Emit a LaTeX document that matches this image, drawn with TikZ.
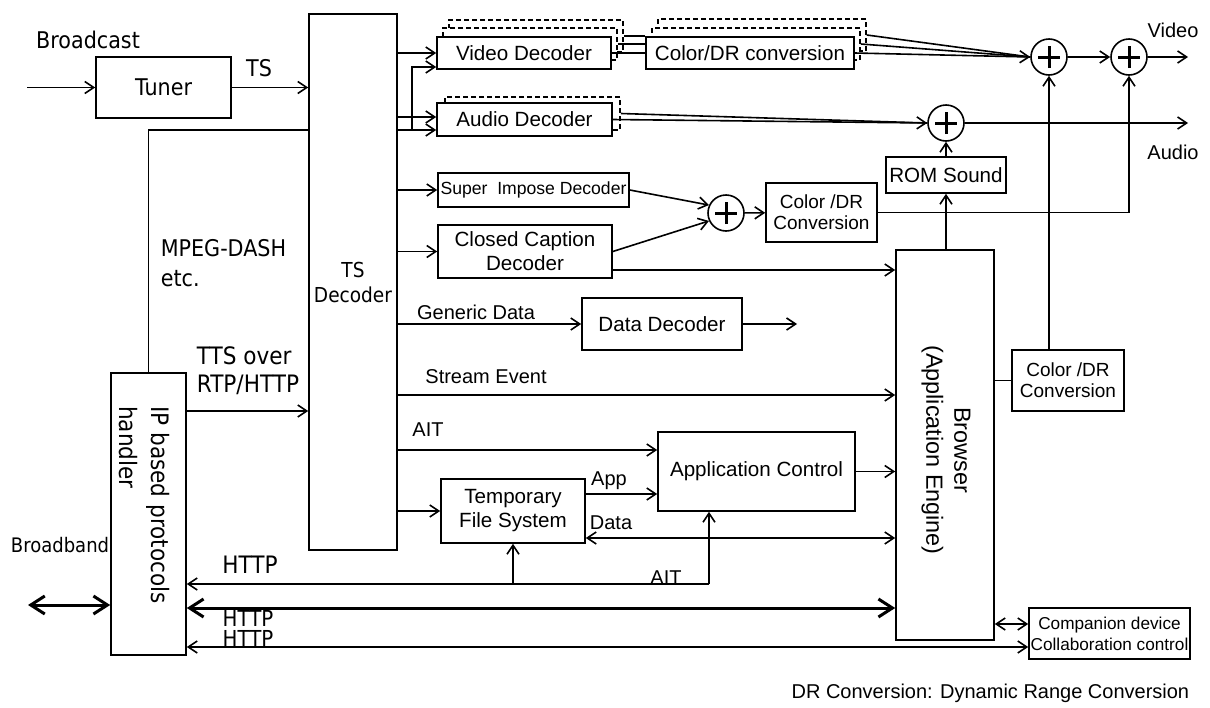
\documentclass[tikz,border=0pt]{standalone}
\usepackage{fontspec}
\setmainfont{Liberation Sans}
\newfontfamily\verdfont[FakeStretch=0.9]{DejaVu Sans}
\usetikzlibrary{arrows.meta, calc}

\begin{document}
\begin{tikzpicture}[
    x=0.5pt, y=-0.5pt,
    line width=0.8pt,
    % Styles
    box/.style={draw, fill=white, inner sep=0pt, align=center, font=\fontsize{10.3}{12}\selectfont},
    ghost/.style={draw, dash pattern=on 2.5pt off 1.5pt, fill=white, inner sep=0pt},
    sum/.style={circle, draw, fill=white, minimum size=18pt, inner sep=0pt,
        path picture={\draw[line width=1.5pt]
            ([xshift=-5.5pt]path picture bounding box.center) -- ([xshift=5.5pt]path picture bounding box.center)
            ([yshift=-5.5pt]path picture bounding box.center) -- ([yshift=5.5pt]path picture bounding box.center);}},
    arrow/.style={-{Straight Barb[length=4.5pt, width=6pt]}},
    darrow/.style={{Straight Barb[length=4.5pt, width=6pt]}-{Straight Barb[length=4.5pt, width=6pt]}},
    bigarrow/.style={line width=1.5pt, {Straight Barb[length=7pt, width=9pt]}-{Straight Barb[length=7pt, width=9pt]}},
    lbl/.style={inner sep=0pt, font=\fontsize{10}{12}\selectfont},
    vlbl/.style={inner sep=0pt, align=left, font=\verdfont\fontsize{11.5}{15}\selectfont}
]
    \useasboundingbox (0,0) rectangle (1210,707);

    % --- Broadcast input ---
    \node[vlbl] (bcast) at (88,40) {Broadcast};
    \node[box, font=\verdfont\fontsize{11.5}{14}\selectfont, minimum width=67.5pt, minimum height=30.5pt] (tuner) at (163.5,87.5) {Tuner};
    \coordinate (bin) at (27,87.5);
    \draw[arrow] (bin) -- (tuner);

    \node[box, font=\verdfont\fontsize{10.3}{12.5}\selectfont, minimum width=44pt, minimum height=268pt] (tsdec) at (353,282) {TS\\Decoder};
    \draw[arrow] (tuner.east) -- (tuner.east -| tsdec.west);
    \node[vlbl] (tslbl) at (259,68) {TS};

    % --- IP side ---
    \node[box, minimum width=37.5pt, minimum height=141pt] (iph) at (148.5,514) {};
    \node[vlbl, rotate=-90, font=\verdfont\fontsize{12}{16}\selectfont] (iphtxt) at (144,505) {IP based protocols\\handler};

    \draw (iph.north) -- (iph.north |- 0,130) -- (tsdec.west |- 0,130);
    \node[vlbl, anchor=west] (dashlbl) at (160,263) {MPEG-DASH\\etc.};

    \draw[arrow] (iph.east |- 0,411) -- (tsdec.west |- 0,411);
    \node[vlbl, anchor=west, font=\verdfont\fontsize{12}{14}\selectfont] (ttslbl) at (196,371) {TTS over\\RTP/HTTP};

    \node[vlbl, font=\verdfont\fontsize{10}{12}\selectfont] (bband) at (60,545) {Broadband};
    \coordinate (bbin) at (28,605);
    \draw[bigarrow] (bbin) -- (iph.west |- bbin);

    % --- Video path ---
    \node[ghost, minimum width=87pt, minimum height=16pt] (vdecc) at (536,36) {};
    \node[ghost, minimum width=87pt, minimum height=16pt] (vdecb) at (530,44) {};
    \node[box, minimum width=87pt, minimum height=16pt] (vdec) at (524,53) {Video Decoder};

    \node[ghost, minimum width=104pt, minimum height=16pt] (cdrc) at (762,35) {};
    \node[ghost, minimum width=104pt, minimum height=16pt] (cdrb) at (756,44) {};
    \node[box, minimum width=104pt, minimum height=16pt] (cdr) at (750,53) {Color/DR conversion};

    \draw (vdec.east) -- (vdec.east -| cdr.west);
    \draw (vdecb.east) -- (vdecb.east -| cdr.west);
    \draw (vdecc.east) -- (vdecc.east -| cdr.west);

    \node[sum] (sv1) at (1049,57) {};
    \node[sum] (sv2) at (1129,57) {};
    \draw (cdrc.east) -- (sv1.west);
    \draw (cdrb.east) -- (sv1.west);
    \draw[arrow] (cdr.east) -- (sv1.west);
    \draw[arrow] (sv1) -- (sv2);
    \coordinate (vout) at (1188,57);
    \draw[arrow] (sv2) -- (vout);
    \node[lbl] (vlabel) at (1173,30) {Video};

    % --- Audio path ---
    \node[ghost, minimum width=87.5pt, minimum height=16.5pt] (adecb) at (532.5,113.5) {};
    \node[box, minimum width=87.5pt, minimum height=16.5pt] (adec) at (524.5,119.5) {Audio Decoder};
    \node[sum] (sa) at (946,123) {};
    \draw (adecb.east) -- (sa.west);
    \draw[arrow] (adec.east) -- (sa.west);
    \coordinate (aout) at (1188,123);
    \draw[arrow] (sa) -- (aout);
    \node[lbl] (alabel) at (1173,152) {Audio};

    \draw[arrow] (tsdec.east |- vdec) -- (vdec);
    \draw[arrow] (tsdec.east |- 0,117) -- (adec.west |- 0,117);
    \coordinate (fork) at (412,130);
    \draw[arrow] (tsdec.east |- fork) -- (adec.west |- fork);
    \draw[arrow] (fork) -- (fork |- 0,67) -- (vdec.west |- 0,67);

    % --- Captions ---
    \node[box, font=\fontsize{8.8}{10}\selectfont, minimum width=95.5pt, minimum height=17pt] (sidec) at (533.5,190) {Super\ \ Impose Decoder};
    \draw[arrow] (tsdec.east |- sidec) -- (sidec);
    \node[box, minimum width=87pt, minimum height=26.5pt] (ccdec) at (525,251.5) {Closed Caption\\Decoder};
    \draw[arrow] (tsdec.east |- ccdec) -- (ccdec);
    \node[sum] (ssi) at (726,213) {};
    \draw[arrow] (sidec.east) -- (ssi.155);
    \draw[arrow] (ccdec.east) -- (ssi.205);
    \node[box, font=\fontsize{9.5}{10.5}\selectfont, minimum width=55.5pt, minimum height=29.5pt] (cdrmid) at (821.5,212.5) {Color /DR\\Conversion};
    \draw[arrow] (ssi) -- (cdrmid);
    \draw[arrow] (cdrmid.east) -- (cdrmid.east -| sv2) -- (sv2.south);

    % --- Browser ---
    \node[box, minimum width=60pt, minimum height=18pt] (rom) at (946,175) {ROM Sound};
    \draw[arrow] (rom) -- (sa);
    \node[box, minimum width=49pt, minimum height=195pt] (browser) at (945,445) {};
    \node[rotate=-90, align=center, font=\fontsize{11.7}{14}\selectfont] (browsertxt) at (946,450) {Browser\\(Application Engine)};
    \draw[arrow] (browser.north -| rom) -- (rom);
    \draw[arrow] (ccdec.east |- 0,270) -- (browser.west |- 0,270);

    \node[box, minimum width=80pt, minimum height=26pt] (ddec) at (662,324) {Data Decoder};
    \draw[arrow] (tsdec.east |- ddec) -- (ddec);
    \node[lbl] (gdlbl) at (476,312) {Generic Data};
    \coordinate (dout) at (797,324);
    \draw[arrow] (ddec) -- (dout);

    \draw[arrow] (tsdec.east |- 0,395) -- (browser.west |- 0,395);
    \node[lbl] (selbl) at (486,377) {Stream Event};

    \node[box, font=\fontsize{9.5}{10.5}\selectfont, minimum width=56pt, minimum height=30.5pt] (cdrr) at (1068,380.5) {Color /DR\\Conversion};
    \draw (browser.east |- cdrr) -- (cdrr);
    \draw[arrow] (sv1.south |- cdrr.north) -- (sv1);

    % --- Application control ---
    \node[box, minimum width=98.5pt, minimum height=39.5pt] (appctl) at (756.5,471.5) {Application Control};
    \draw[arrow] (tsdec.east |- 0,450) -- (appctl.west |- 0,450);
    \node[lbl] (aitlbl) at (428,430) {AIT};
    \draw[arrow] (appctl) -- (appctl -| browser.west);

    \node[box, minimum width=72pt, minimum height=32pt] (tfs) at (513,511) {Temporary\\File System};
    \draw[arrow] (tsdec.east |- tfs) -- (tfs);
    \draw[arrow] (tfs.east |- 0,494) -- (appctl.west |- 0,494);
    \node[lbl] (applbl) at (609,481) {App};
    \draw[darrow] (tfs.east |- 0,538) -- (browser.west |- 0,538);
    \node[lbl] (datalbl) at (611,523) {Data};

    % --- HTTP ---
    \coordinate (aitc) at (709,584);
    \draw[arrow] (aitc) -- (iph.east |- aitc);
    \draw[arrow] (aitc) -- (aitc |- appctl.south);
    \draw[arrow] (tfs.south |- aitc) -- (tfs.south);
    \node[vlbl, font=\verdfont\fontsize{12}{14}\selectfont] (http1) at (250,565) {HTTP};
    \node[lbl, anchor=south] (ait2lbl) at (666,585) {AIT};

    \draw[bigarrow] (iph.east |- 0,608) -- (browser.west |- 0,608);
    \node[vlbl, font=\verdfont\fontsize{11}{13}\selectfont] (http2) at (248,618.5) {HTTP};
    \node[vlbl, font=\verdfont\fontsize{11}{13}\selectfont] (http3) at (248,638.5) {HTTP};

    \node[box, font=\fontsize{8.6}{10.5}\selectfont, minimum width=80.5pt, minimum height=25.5pt] (comp) at (1109.5,633.5) {Companion device\\Collaboration control};
    \draw[darrow] (iph.east |- 0,647) -- (comp.west |- 0,647);
    \draw[darrow] (browser.east |- 0,624) -- (comp.west |- 0,624);

    % Annotations
    \node[lbl, anchor=east] (note) at (1190,693) {DR Conversion: Dynamic Range Conversion};

\end{tikzpicture}
\end{document}
